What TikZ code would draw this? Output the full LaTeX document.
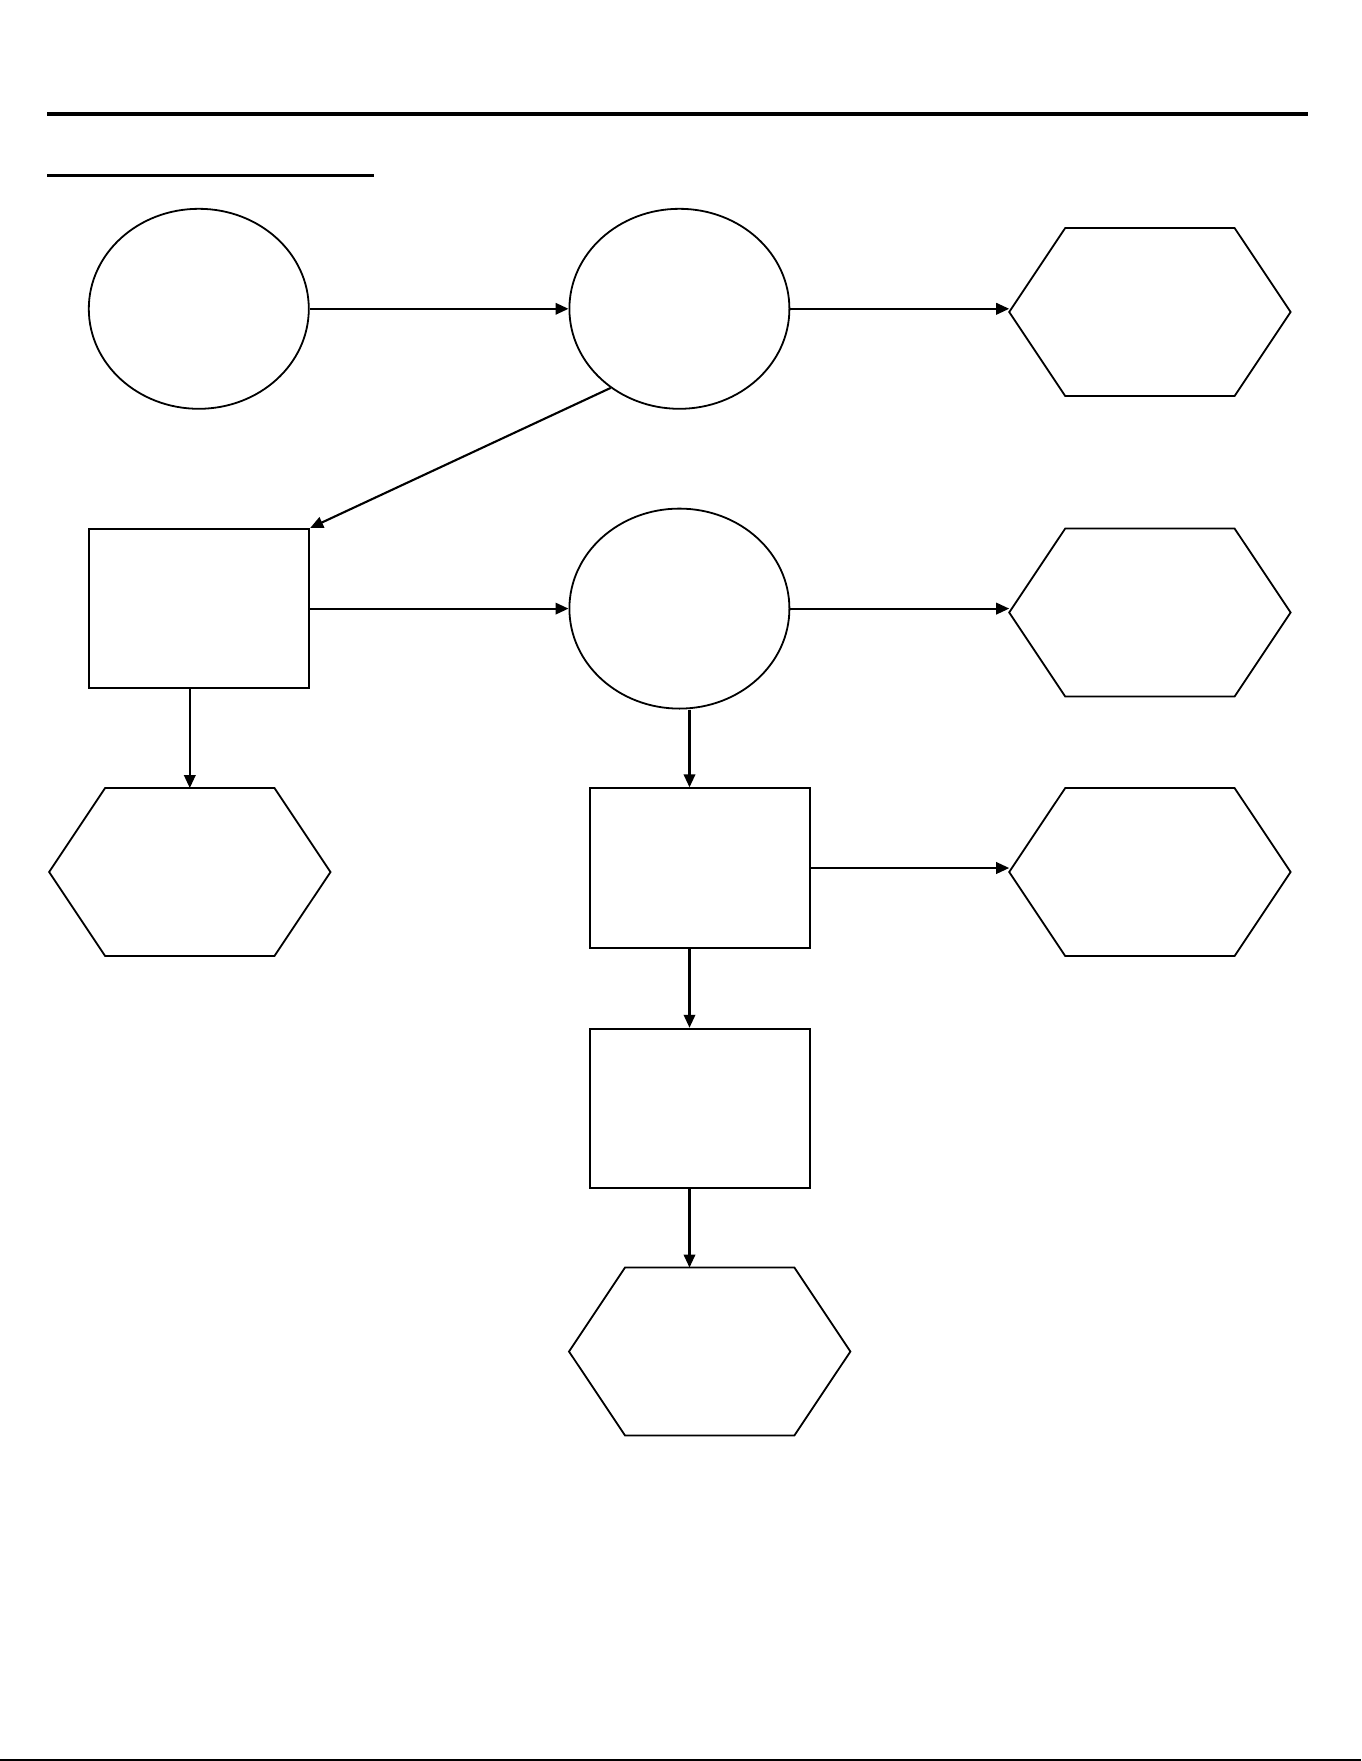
\documentclass[tikz,border=0pt]{standalone}
\usetikzlibrary{shapes.geometric,arrows.meta,calc}
\tikzset{
  shapeline/.style={draw=black, line width=1.8pt},
  ovalnode/.style={shapeline, ellipse, minimum width=220pt, minimum height=200pt, inner sep=0pt},
  boxnode/.style={shapeline, rectangle, minimum width=220pt, minimum height=159.5pt, inner sep=0pt},
  hexnode/.style={rectangle, minimum width=281pt, minimum height=167.5pt, inner sep=0pt},
  conn/.style={line width=2.1pt, -{Triangle[length=13pt,width=11.5pt]}},
  rule/.style={line width=#1, draw=black}
}
\newcommand{\drawhexagon}[1]{%
  \draw[shapeline, line join=miter] (#1.west) -- ([xshift=56pt]#1.north west) -- ([xshift=-56pt]#1.north east)
    -- (#1.east) -- ([xshift=-56pt]#1.south east) -- ([xshift=56pt]#1.south west) -- cycle;}
\begin{document}
\begin{tikzpicture}[x=1pt,y=-1pt]
\useasboundingbox[fill=white] (0,0) rectangle (1361,1761);
% header rules
\coordinate (r1a) at (47,113.5); \coordinate (r1b) at (1308,113.5);
\coordinate (r2a) at (47,175.5); \coordinate (r2b) at (374,175.5);
\coordinate (r3a) at (0,1760); \coordinate (r3b) at (1361,1760);
\draw[rule=4pt] (r1a) -- (r1b);
\draw[rule=3pt] (r2a) -- (r2b);
\draw[rule=2pt] (r3a) -- (r3b);
% nodes
\node[ovalnode] (A) at (198.8,308.8) {};
\node[ovalnode] (B) at (679.4,308.8) {};
\node[hexnode] (C) at (1149.9,312) {};
\node[boxnode] (D) at (199.3,608.6) {};
\node[ovalnode] (E) at (679.4,608.6) {};
\node[hexnode] (F) at (1149.9,612.5) {};
\node[hexnode] (G) at (189.8,872) {};
\node[boxnode] (H) at (699.6,868) {};
\node[hexnode] (I) at (1149.9,872) {};
\node[boxnode] (J) at (699.6,1108.4) {};
\node[hexnode] (K) at (709.7,1351.5) {};
\drawhexagon{C}
\drawhexagon{F}
\drawhexagon{G}
\drawhexagon{I}
\drawhexagon{K}
\coordinate (vx) at (689.5,0);
% connectors
\draw[conn] (A.east) -- (B.west);
\draw[conn] (B.east) -- (B.east -| C.west);
\draw[conn] (B.229) -- (D.north east);
\draw[conn] (D.east) -- (E.west);
\draw[conn] (E.east) -- (E.east -| F.west);
\draw[conn] (D.south -| G.north) -- (G.north);
\draw[conn] (E.south -| vx) -- (H.north -| vx);
\draw[conn] (H.east) -- (H.east -| I.west);
\draw[conn] (H.south -| vx) -- (J.north -| vx);
\draw[conn] (J.south -| vx) -- (K.north -| vx);
\end{tikzpicture}
\end{document}
